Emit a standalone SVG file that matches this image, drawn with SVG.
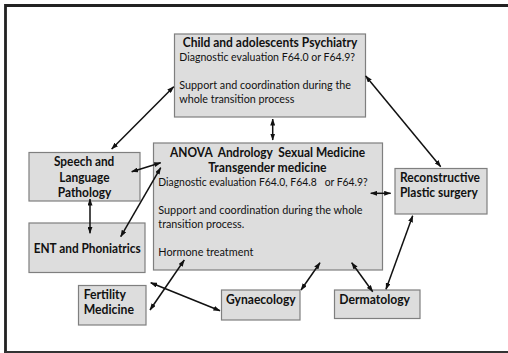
<svg xmlns="http://www.w3.org/2000/svg" width="508" height="353" viewBox="0 0 508 353">
<defs>
<style>
.box{fill:#dddddd;stroke:#7f7f7f;stroke-width:1.2}
.t{font-family:Lato,"Open Sans","Liberation Sans",sans-serif;font-size:12px;fill:#111;white-space:pre}
.b{font-weight:bold;font-size:13px}
.c{stroke:#111;stroke-width:1.5;fill:none;marker-start:url(#ah);marker-end:url(#ah)}
</style>
<marker id="ah" viewBox="0 0 7 5" refX="6.5" refY="2.5" markerWidth="7" markerHeight="5" markerUnits="userSpaceOnUse" orient="auto-start-reverse">
<path d="M0,0 L7,2.5 L0,5 z" fill="#111"/>
</marker>
</defs>
<rect width="508" height="353" fill="#ffffff"/>
<path d="M5.5,353 V5.5 H508" fill="none" stroke="#222" stroke-width="2.8"/>
<line x1="4" y1="352" x2="508" y2="352" stroke="#333" stroke-width="2"/>

<g id="child">
<rect class="box" x="174.5" y="34" width="191" height="83"/>
<text class="t b" x="182.7" y="46.5" textLength="174.7" lengthAdjust="spacingAndGlyphs">Child and adolescents Psychiatry</text>
<text class="t" x="179.3" y="61" textLength="175.7" lengthAdjust="spacingAndGlyphs">Diagnostic evaluation F64.0 or F64.9?</text>
<text class="t" x="179.3" y="89" textLength="171.7" lengthAdjust="spacingAndGlyphs">Support and coordination during the</text>
<text class="t" x="179.3" y="103" textLength="115" lengthAdjust="spacingAndGlyphs">whole transition process</text>
</g>

<g id="anova">
<rect class="box" x="153.5" y="143" width="229" height="127"/>
<text class="t b" x="170" y="156.5" textLength="195" lengthAdjust="spacingAndGlyphs">ANOVA  Andrology  Sexual Medicine</text>
<text class="t b" x="208.3" y="171.5" textLength="118.3" lengthAdjust="spacingAndGlyphs">Transgender medicine</text>
<text class="t" x="158.3" y="186" textLength="209.4" lengthAdjust="spacingAndGlyphs">Diagnostic evaluation F64.0, F64.8   or F64.9?</text>
<text class="t" x="158.3" y="214" textLength="204.3" lengthAdjust="spacingAndGlyphs">Support and coordination during the whole</text>
<text class="t" x="158.3" y="228" textLength="86" lengthAdjust="spacingAndGlyphs">transition process.</text>
<text class="t" x="158.3" y="256" textLength="95" lengthAdjust="spacingAndGlyphs">Hormone treatment</text>
</g>

<g id="speech">
<rect class="box" x="29" y="152.5" width="111" height="48.5"/>
<text class="t b" x="54" y="166" textLength="60.3" lengthAdjust="spacingAndGlyphs">Speech and</text>
<text class="t b" x="59.3" y="181.5" textLength="50.3" lengthAdjust="spacingAndGlyphs">Language</text>
<text class="t b" x="57.7" y="196.5" textLength="53.7" lengthAdjust="spacingAndGlyphs">Pathology</text>
</g>

<g id="ent">
<rect class="box" x="29" y="223" width="116" height="49.5"/>
<text class="t b" x="33.7" y="252.5" textLength="107" lengthAdjust="spacingAndGlyphs">ENT and Phoniatrics</text>
</g>

<g id="reconstructive">
<rect class="box" x="395" y="168.5" width="92" height="45.5"/>
<text class="t b" x="400" y="182" textLength="80" lengthAdjust="spacingAndGlyphs">Reconstructive</text>
<text class="t b" x="400" y="197" textLength="77.7" lengthAdjust="spacingAndGlyphs">Plastic surgery</text>
</g>

<g id="fertility">
<rect class="box" x="78.5" y="285.5" width="67.5" height="39.5"/>
<text class="t b" x="83.7" y="299" textLength="42.3" lengthAdjust="spacingAndGlyphs">Fertility</text>
<text class="t b" x="83.7" y="314" textLength="50.3" lengthAdjust="spacingAndGlyphs">Medicine</text>
</g>

<g id="gynaecology">
<rect class="box" x="221.5" y="290" width="78.5" height="30"/>
<text class="t b" x="226" y="304" textLength="69.7" lengthAdjust="spacingAndGlyphs">Gynaecology</text>
</g>

<g id="dermatology">
<rect class="box" x="334.5" y="290" width="85.5" height="28.5"/>
<text class="t b" x="339.3" y="304" textLength="70.7" lengthAdjust="spacingAndGlyphs">Dermatology</text>
</g>

<g id="connectors">
<line class="c" x1="111.7" y1="149" x2="173.7" y2="86.7"/>
<line class="c" x1="272.7" y1="119" x2="272.7" y2="140"/>
<line class="c" x1="365.7" y1="76" x2="440.7" y2="166.7"/>
<line class="c" x1="131.7" y1="171.7" x2="160.7" y2="162.7"/>
<line class="c" x1="120.7" y1="236.7" x2="160.7" y2="167.7"/>
<line class="c" x1="90" y1="199" x2="90" y2="233.3"/>
<line class="c" x1="370.7" y1="193.3" x2="390.7" y2="193.3"/>
<line class="c" x1="184.3" y1="260" x2="150" y2="310"/>
<line class="c" x1="150.7" y1="282.7" x2="220" y2="310.7"/>
<line class="c" x1="320" y1="262.7" x2="301" y2="290"/>
<line class="c" x1="351.7" y1="262.7" x2="372.7" y2="291.7"/>
<line class="c" x1="412.7" y1="215.7" x2="386" y2="289.3"/>
</g>
</svg>
